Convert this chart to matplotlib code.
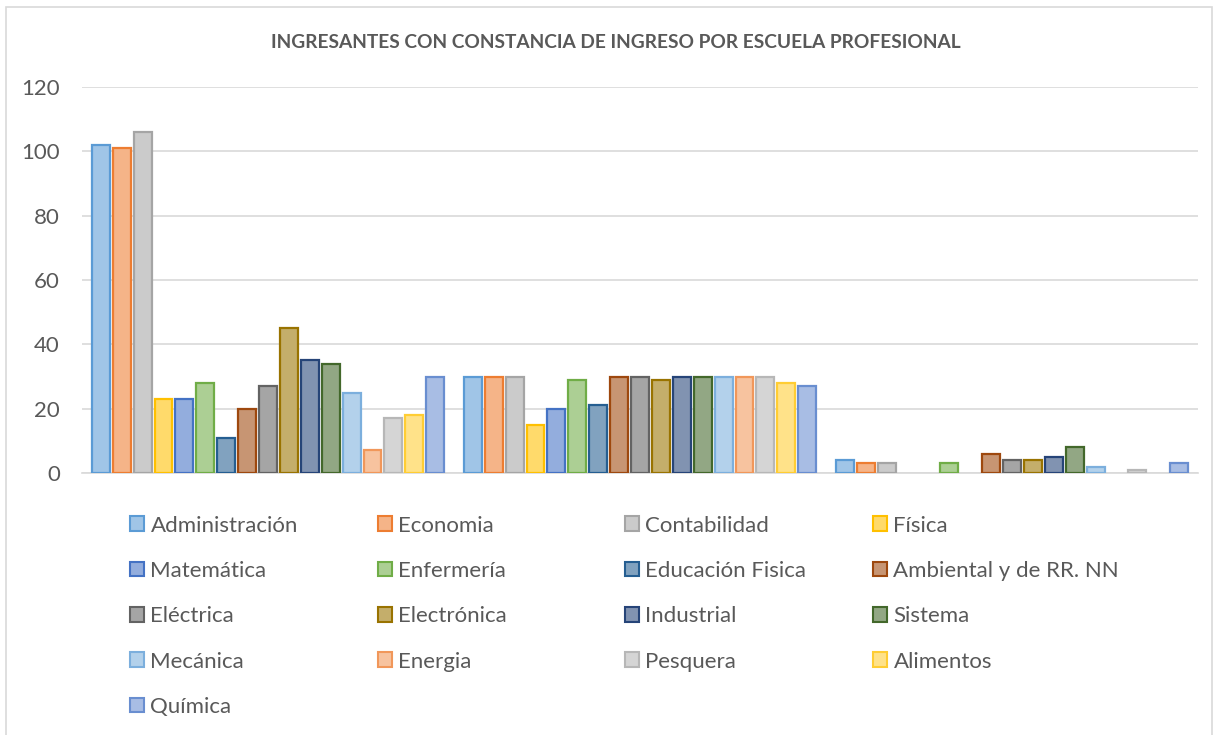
import matplotlib
matplotlib.use('Agg')
import matplotlib.pyplot as plt
import matplotlib.colors as mcolors
from matplotlib.patches import Patch, Rectangle
import numpy as np

plt.rcParams['font.family'] = ['Lato', 'DejaVu Sans']

# Data: three (unlabeled) groups, one bar per school
groups = ['1', '2', '3']
escuelas = ['Administración', 'Economia', 'Contabilidad', 'Física',
            'Matemática', 'Enfermería', 'Educación Fisica', 'Ambiental y de RR. NN',
            'Eléctrica', 'Electrónica', 'Industrial', 'Sistema',
            'Mecánica', 'Energia', 'Pesquera', 'Alimentos',
            'Química']
grupo1 = [102, 101, 106, 23, 23, 28, 11, 20, 27, 45, 35, 34, 25, 7, 17, 18, 30]
grupo2 = [30, 30, 30, 15, 20, 29, 21, 30, 30, 29, 30, 30, 30, 30, 30, 28, 27]
grupo3 = [4, 3, 3, 0, 0, 3, 0, 6, 4, 4, 5, 8, 2, 0, 1, 0, 3]

colores = ['#5B9BD5', '#ED7D31', '#A5A5A5', '#FFC000',
           '#4472C4', '#70AD47', '#255E91', '#9E480E',
           '#636363', '#997300', '#264478', '#43682B',
           '#7CAFDD', '#F1975A', '#B7B7B7', '#FFCD33',
           '#698ED0']

def aclarar(c, f=0.42):
    r, g, b = mcolors.to_rgb(c)
    return (r + (1 - r) * f, g + (1 - g) * f, b + (1 - b) * f)

valores = np.array([grupo1, grupo2, grupo3]).T  # shape (17, 3)

fig = plt.figure(figsize=(12.18, 7.35), dpi=100)
ax = fig.add_axes([82 / 1218, 1 - 473 / 735, (1198 - 82) / 1218, (473 - 87) / 735])

n = len(escuelas)
x = np.arange(len(groups))
ancho_grupo = 0.955
paso = ancho_grupo / n
for i, (nombre, col) in enumerate(zip(escuelas, colores)):
    pos = x - ancho_grupo / 2 + paso * (i + 0.5)
    lw = [1.6 if v > 0 else 0 for v in valores[i]]
    ax.bar(pos, valores[i], width=paso * 0.86, color=aclarar(col),
           edgecolor=col, linewidth=lw, label=nombre, zorder=3)

ax.set_xlim(-0.5, 2.5)
ax.set_ylim(0, 120)
ax.set_yticks(range(0, 121, 20))
ax.set_xticks([])
ax.yaxis.grid(True, color='#D9D9D9', linewidth=1.2, zorder=0)
for s in ['top', 'right', 'left']:
    ax.spines[s].set_visible(False)
ax.spines['bottom'].set_color('#D9D9D9')
ax.spines['bottom'].set_linewidth(1.2)
ax.tick_params(axis='y', length=0, labelsize=16, labelcolor='#595959', pad=16)

fig.text(0.506, 1 - 42 / 735, 'INGRESANTES CON CONSTANCIA DE INGRESO POR ESCUELA PROFESIONAL',
         ha='center', va='center', fontsize=13.8, fontweight='bold', color='#595959')

# legend: 4 columns laid out row by row
handles = [Patch(facecolor=aclarar(c), edgecolor=c, linewidth=1.5) for c in colores]
col_x = [130, 378, 625, 873]
for c in range(4):
    idx = list(range(c, n, 4))
    leg = fig.legend([handles[k] for k in idx], [escuelas[k] for k in idx],
                     loc='upper left', bbox_to_anchor=(col_x[c] / 1218, 1 - 515.5 / 735),
                     frameon=False, fontsize=16, labelcolor='#595959',
                     handlelength=0.62, handleheight=0.62, handletextpad=0.3,
                     labelspacing=1.14, borderpad=0, borderaxespad=0)

# outer chart border
fig.patches.append(Rectangle((6 / 1218, -0.05), 1206 / 1218, 1.05 - 7 / 735,
                             transform=fig.transFigure, fill=False,
                             edgecolor='#D9D9D9', linewidth=1.2))

fig.savefig('out.png', dpi=100)
